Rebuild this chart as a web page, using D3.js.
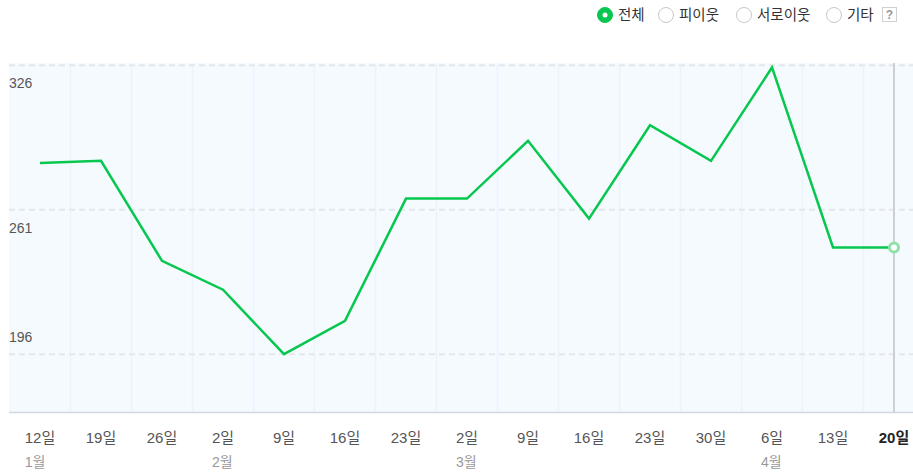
<!DOCTYPE html>
<html>
<head>
<meta charset="utf-8">
<script src="https://cdn.jsdelivr.net/npm/d3@7"></script>
<style>
  body { margin: 0; background: #fff; }
  text { font-family: "Liberation Sans", Arial, "Noto Sans CJK KR", sans-serif; }
</style>
</head>
<body>
<div id="chart"></div>
<script>
// data
var days = ["12일", "19일", "26일", "2일", "9일", "16일", "23일", "2일", "9일", "16일", "23일", "30일", "6일", "13일", "20일"];
var months = ["1월", "", "", "2월", "", "", "", "3월", "", "", "", "", "4월", "", ""];
var values = [282, 283, 238, 225, 196, 211, 266, 266, 292, 257, 299, 283, 325, 244, 244];
var yTicks = [196, 261, 326];
var legendItems = ["전체", "피이웃", "서로이웃", "기타"];

w = 913;
h = 472;
var plotLeft = 9, plotTop = 63, plotBottom = 412;

var svg = d3.select("#chart")
    .append("svg")
    .attr("width", w)
    .attr("height", h);

var xscale = d3.scalePoint()
    .domain(d3.range(days.length))
    .range([40, 894]);

var yscale = d3.scaleLinear()
    .domain([170, 327])
    .range([plotBottom, plotTop]);

var step = xscale.step();

// plot background
svg.append("rect")
    .attr("x", plotLeft)
    .attr("y", plotTop)
    .attr("width", w - plotLeft)
    .attr("height", plotBottom - plotTop)
    .attr("fill", "#f5faff");

// vertical grid between points
svg.selectAll("line.vgrid")
    .data(d3.range(days.length - 1))
    .enter().append("line")
    .attr("class", "vgrid")
    .attr("x1", function(d) { return xscale(d) + step / 2; })
    .attr("x2", function(d) { return xscale(d) + step / 2; })
    .attr("y1", plotTop)
    .attr("y2", plotBottom)
    .attr("stroke", "#ebf4fd")
    .attr("stroke-width", 1.5);

// horizontal dashed grid
svg.selectAll("line.hgrid")
    .data(yTicks)
    .enter().append("line")
    .attr("class", "hgrid")
    .attr("x1", plotLeft)
    .attr("x2", w)
    .attr("y1", function(d) { return yscale(d); })
    .attr("y2", function(d) { return yscale(d); })
    .attr("stroke", "#e3e8ee")
    .attr("stroke-width", 2)
    .attr("stroke-dasharray", "6,4");

// y labels (lowest one sits above its line)
var minTick = d3.min(yTicks);
svg.selectAll("text.ylab")
    .data(yTicks)
    .enter().append("text")
    .attr("class", "ylab")
    .attr("x", plotLeft)
    .attr("y", function(d) { return d === minTick ? yscale(d) - 12 : yscale(d) + 23; })
    .attr("font-size", "14px")
    .attr("fill", "#555")
    .text(function(d) { return d; });

// bottom axis line
svg.append("line")
    .attr("x1", plotLeft)
    .attr("x2", w)
    .attr("y1", plotBottom + 0.5)
    .attr("y2", plotBottom + 0.5)
    .attr("stroke", "#d3d8de")
    .attr("stroke-width", 1.5);

// current marker line
var last = days.length - 1;
svg.append("line")
    .attr("x1", xscale(last))
    .attr("x2", xscale(last))
    .attr("y1", plotTop)
    .attr("y2", plotBottom)
    .attr("stroke", "#cdd1d6")
    .attr("stroke-width", 2);

// series line
var line = d3.line()
    .x(function(d, i) { return xscale(i); })
    .y(function(d) { return yscale(d); });

svg.append("path")
    .datum(values)
    .attr("d", line)
    .attr("fill", "none")
    .attr("stroke", "#07c74f")
    .attr("stroke-width", 2.5)
    .attr("stroke-linejoin", "miter");

svg.append("circle")
    .attr("cx", xscale(last))
    .attr("cy", yscale(values[last]))
    .attr("r", 4.5)
    .attr("fill", "#fff")
    .attr("stroke", "#8fe3a9")
    .attr("stroke-width", 3);

// x labels
var dayLabels = svg.selectAll("text.day")
    .data(days)
    .enter().append("text")
    .attr("class", "day")
    .attr("x", function(d, i) { return xscale(i); })
    .attr("y", 443)
    .attr("text-anchor", "middle")
    .attr("font-size", "15px")
    .attr("font-weight", function(d, i) { return i === last ? "bold" : "normal"; })
    .attr("fill", function(d, i) { return i === last ? "#222" : "#555"; })
    .text(function(d) { return d; });

var dayNodes = dayLabels.nodes();
svg.selectAll("text.month")
    .data(months)
    .enter().append("text")
    .attr("class", "month")
    .attr("x", function(d, i) { return xscale(i) - dayNodes[i].getComputedTextLength() / 2; })
    .attr("y", 467)
    .attr("font-size", "14px")
    .attr("fill", "#999")
    .text(function(d) { return d; });

// legend
var legendX = [605, 666, 744, 834];
var legend = svg.selectAll("g.legend")
    .data(legendItems)
    .enter().append("g")
    .attr("class", "legend")
    .attr("transform", function(d, i) { return "translate(" + legendX[i] + ",15)"; });

legend.append("circle")
    .attr("r", 7.5)
    .attr("fill", function(d, i) { return i === 0 ? "#07c74f" : "#fff"; })
    .attr("stroke", function(d, i) { return i === 0 ? "#07c74f" : "#c8c8c8"; })
    .attr("stroke-width", 1);

legend.filter(function(d, i) { return i === 0; })
    .append("circle")
    .attr("r", 2.5)
    .attr("fill", "#fff");

legend.append("text")
    .attr("x", 13)
    .attr("y", 5)
    .attr("font-size", "14.5px")
    .attr("fill", "#333")
    .text(function(d) { return d; });

// help box
var help = svg.append("g").attr("transform", "translate(882,7)");
help.append("rect")
    .attr("x", 0.5).attr("y", 0.5)
    .attr("width", 14).attr("height", 14)
    .attr("fill", "#fff")
    .attr("stroke", "#d0d0d0");
help.append("text")
    .attr("x", 7.5).attr("y", 12)
    .attr("text-anchor", "middle")
    .attr("font-size", "12px")
    .attr("font-weight", "bold")
    .attr("fill", "#999")
    .text("?");
</script>
</body>
</html>
